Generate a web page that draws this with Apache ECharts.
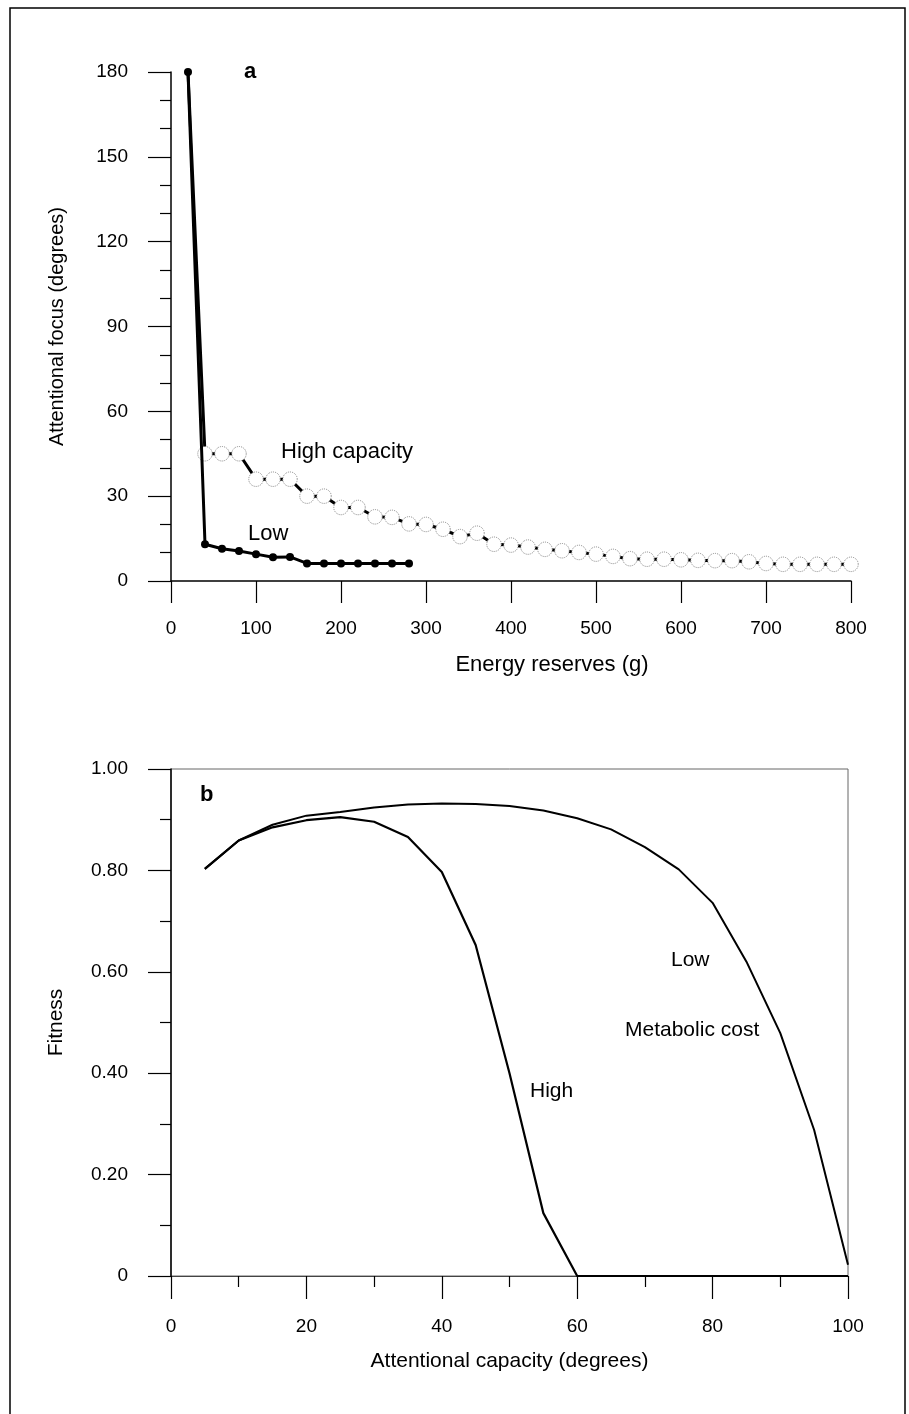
<!DOCTYPE html>
<html><head><meta charset="utf-8">
<script src="https://cdn.jsdelivr.net/npm/echarts@6/dist/echarts.min.js"></script>
<style>html,body{margin:0;padding:0;background:#fff}#c{width:909px;height:1414px}</style>
</head><body><div id="c"></div><script>
// Panel a
const energyReserves = [20,40,60,80,100,120,140,160,180,200,220,240,260,280,300,320,340,360,380,400,420,440,460,480,500,520,540,560,580,600,620,640,660,680,700,720,740,760,780,800];
const highCapacityFocus = [180,45,45,45,36,36,36,30,30,26,26,22.7,22.5,20.2,20,18.3,15.7,16.9,13,12.7,12,11.2,10.7,10.1,9.5,8.7,7.9,7.7,7.7,7.5,7.3,7.2,7.2,6.8,6.2,5.9,5.9,5.9,5.9,5.9];
const lowCapacityFocus = [180,13,11.4,10.6,9.5,8.4,8.5,6.2,6.2,6.2,6.2,6.2,6.2,6.2];
const focusTicks = [0,30,60,90,120,150,180];
const energyTicks = [0,100,200,300,400,500,600,700,800];
// Panel b
const attentionalCapacity = [5,10,15,20,25,30,35,40,45,50,55,60,65,70,75,80,85,90,95,100];
const lowCostFitness = [0.803,0.859,0.89,0.908,0.915,0.924,0.93,0.932,0.931,0.927,0.918,0.903,0.881,0.846,0.802,0.736,0.62,0.479,0.288,0.022];
const highCostFitness = [0.803,0.859,0.885,0.899,0.905,0.896,0.866,0.797,0.653,0.40,0.124,0,0,0,0,0,0,0,0,0];
const fitnessTickLabels = ['0','0.20','0.40','0.60','0.80','1.00'];
const capacityTicks = [0,20,40,60,80,100];

const FONT = 'Liberation Sans, Arial, sans-serif';
const chart = echarts.init(document.getElementById('c'), null, {renderer:'canvas'});

const lbl = (margin) => ({fontFamily:FONT, fontSize:19, color:'#000', margin});
const line = {show:true, lineStyle:{color:'#000', width:1.5}};

chart.setOption({
  animation:false,
  backgroundColor:'#fff',
  grid:[
    {left:171, top:72, width:680, height:509},
    {left:171, top:769, width:677, height:507, show:true, borderColor:'#666', borderWidth:1}
  ],
  xAxis:[
    {gridIndex:0, type:'value', min:0, max:800, interval:100,
     axisLine:line, axisTick:{show:true, length:22, lineStyle:{color:'#000', width:1.2}},
     axisLabel:Object.assign(lbl(38), {formatter:v=>String(energyTicks[energyTicks.indexOf(v)])}),
     splitLine:{show:false},
     name:'Energy reserves (g)', nameLocation:'middle', nameGap:73,
     nameTextStyle:{fontFamily:FONT, fontSize:22, color:'#000', padding:[0,0,0,82]}},
    {gridIndex:1, type:'value', min:0, max:100, interval:20,
     axisLine:{show:true, lineStyle:{color:'#444', width:1}},
     axisTick:{show:true, length:23, lineStyle:{color:'#000', width:1.2}},
     minorTick:{show:true, splitNumber:2, length:11, lineStyle:{color:'#000', width:1.2}},
     axisLabel:Object.assign(lbl(41), {formatter:v=>String(capacityTicks[capacityTicks.indexOf(v)])}),
     splitLine:{show:false},
     name:'Attentional capacity (degrees)', nameLocation:'middle', nameGap:75,
     nameTextStyle:{fontFamily:FONT, fontSize:21, color:'#000'}}
  ],
  yAxis:[
    {gridIndex:0, type:'value', min:0, max:180, interval:30,
     axisLine:line, axisTick:{show:true, length:23, lineStyle:{color:'#000', width:1.2}},
     minorTick:{show:true, splitNumber:3, length:11, lineStyle:{color:'#000', width:1.2}},
     axisLabel:Object.assign(lbl(43), {formatter:v=>String(focusTicks[focusTicks.indexOf(v)])}),
     splitLine:{show:false},
     name:'Attentional focus (degrees)', nameLocation:'middle', nameGap:104,
     nameTextStyle:{fontFamily:FONT, fontSize:20, color:'#000'}},
    {gridIndex:1, type:'value', min:0, max:1, interval:0.2,
     axisLine:line, axisTick:{show:true, length:23, lineStyle:{color:'#000', width:1.2}},
     minorTick:{show:true, splitNumber:2, length:11, lineStyle:{color:'#000', width:1.2}},
     axisLabel:Object.assign(lbl(43), {formatter:v=>fitnessTickLabels[Math.round(v*5)]}),
     splitLine:{show:false},
     name:'Fitness', nameLocation:'middle', nameGap:104,
     nameTextStyle:{fontFamily:FONT, fontSize:21, color:'#000'}}
  ],
  series:[
    {type:'line', xAxisIndex:0, yAxisIndex:0, name:'High capacity',
     showAllSymbol:true, symbol:'circle', symbolSize:14.5,
     lineStyle:{color:'#000', width:3},
     itemStyle:{color:'#fff', borderColor:'#888', borderWidth:1, borderType:'dotted'},
     data:energyReserves.map((x,i)=> i===0 ? {value:[x,highCapacityFocus[i]], symbol:'none'} : [x,highCapacityFocus[i]]),
     z:2},
    {type:'line', xAxisIndex:0, yAxisIndex:0, name:'Low',
     showAllSymbol:true, symbol:'circle', symbolSize:8,
     lineStyle:{color:'#000', width:3},
     itemStyle:{color:'#000', borderWidth:0},
     data:lowCapacityFocus.map((y,i)=>[energyReserves[i], y]),
     z:3},
    {type:'line', xAxisIndex:1, yAxisIndex:1, name:'Low metabolic cost',
     symbol:'none', lineStyle:{color:'#000', width:2},
     data:attentionalCapacity.map((x,i)=>[x, lowCostFitness[i]])},
    {type:'line', xAxisIndex:1, yAxisIndex:1, name:'High metabolic cost',
     symbol:'none', lineStyle:{color:'#000', width:2.2},
     data:attentionalCapacity.map((x,i)=>[x, highCostFitness[i]])}
  ],
  graphic:[
    {type:'rect', shape:{x:10, y:8, width:895, height:1430}, style:{fill:'none', stroke:'#000', lineWidth:1.5}, silent:true},
    {type:'text', left:244, top:61, style:{text:'a', font:'bold 22px '+FONT, fill:'#000'}},
    {type:'text', left:281, top:441, style:{text:'High capacity', font:'22px '+FONT, fill:'#000'}},
    {type:'text', left:248, top:523, style:{text:'Low', font:'22px '+FONT, fill:'#000'}},
    {type:'text', left:200, top:784, style:{text:'b', font:'bold 22px '+FONT, fill:'#000'}},
    {type:'text', left:671, top:950, style:{text:'Low', font:'21px '+FONT, fill:'#000'}},
    {type:'text', left:625, top:1020, style:{text:'Metabolic cost', font:'21px '+FONT, fill:'#000'}},
    {type:'text', left:530, top:1081, style:{text:'High', font:'21px '+FONT, fill:'#000'}}
  ]
});
</script></body></html>
